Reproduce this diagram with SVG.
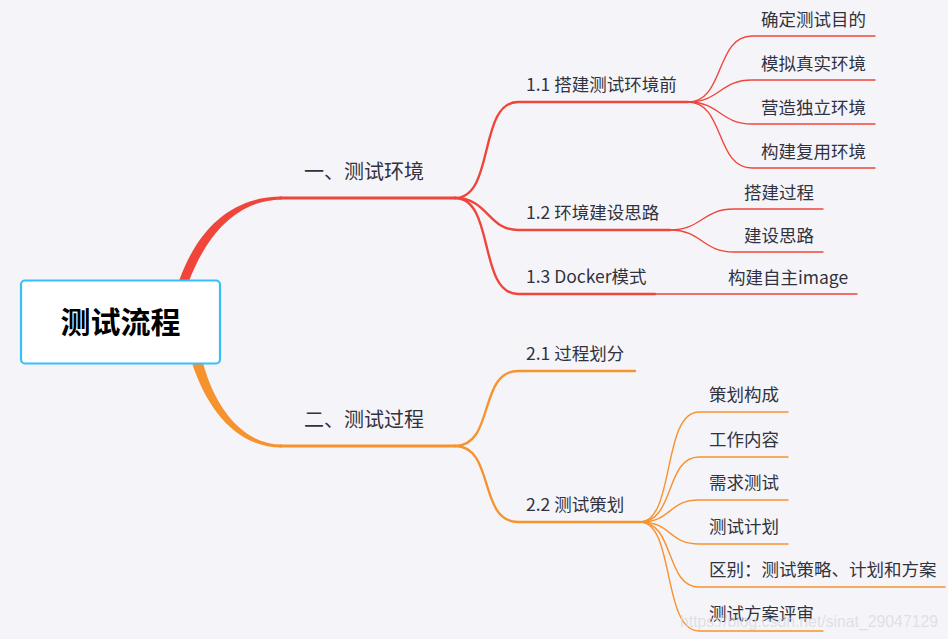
<svg xmlns="http://www.w3.org/2000/svg" width="948" height="639" viewBox="0 0 948 639">
<style>
text{font-family:"Noto Sans CJK SC","Noto Sans",sans-serif;fill:#30333f}
.l1{font-size:20px}
.l2{font-size:17.5px}
.l3{font-size:17.5px}
.r{stroke:#f0453a;fill:none;stroke-linecap:round}
.o{stroke:#f7932f;fill:none;stroke-linecap:round}
.w1{stroke-width:3}
.w2{stroke-width:2.4}
.w3{stroke-width:1.4}
</style>
<rect width="948" height="639" fill="#f5f5f9"/>
<g id="connectors">
<path d="M179,281 C198,228 232,196.5 282,196.5 L282,199.5 C238,200 208,232 189,281 Z" fill="#f0453a"/>
<path d="M192,363 C208,412 238,447.5 282,447.5 L282,444.5 C244,444.5 216,410 203,363 Z" fill="#f7932f"/>
<path class="r w1" d="M280,198 H455"/>
<path class="o w1" d="M280,446 H455"/>
<path class="r w2" d="M455,198 C495,198 478,102 518,102 H688"/>
<path class="r w2" d="M455,198 C488,198 488,230 518,230 H670"/>
<path class="r w2" d="M455,198 C495,198 478,294 518,294 H655"/>
<path class="r w3" d="M655,294 H857"/>
<path class="r w3" d="M688,102 C725,102 715,36 752,36 H875"/>
<path class="r w3" d="M688,102 C720,102 720,80 752,80 H875"/>
<path class="r w3" d="M688,102 C720,102 720,124 752,124 H875"/>
<path class="r w3" d="M688,102 C725,102 715,168 752,168 H875"/>
<path class="r w3" d="M670,230 C702,230 702,209 734,209 H823"/>
<path class="r w3" d="M670,230 C702,230 702,252 734,252 H823"/>
<path class="o w2" d="M455,446 C495,446 478,371 518,371 H635"/>
<path class="o w2" d="M455,446 C495,446 478,522 518,522 H640"/>
<path class="o w3" d="M640,522 C675,522 662,412 699,412 H788"/>
<path class="o w3" d="M640,522 C675,522 665,457 699,457 H788"/>
<path class="o w3" d="M640,522 C672,522 668,500 699,500 H788"/>
<path class="o w3" d="M640,522 C672,522 668,544 699,544 H788"/>
<path class="o w3" d="M640,522 C675,522 665,587 699,587 H945"/>
<path class="o w3" d="M640,522 C675,522 662,631 699,631 H823"/>
</g>
<g id="root">
<rect x="21" y="280.5" width="199" height="83" rx="4" fill="#ffffff" stroke="#36bffa" stroke-width="2.2"/>
<text x="120.5" y="333" text-anchor="middle" style="font-size:30px;font-weight:bold;fill:#000">测试流程</text>
</g>
<g id="n1"><text class="l1" x="304" y="178.5">一、测试环境</text></g>
<g id="n2"><text class="l1" x="304" y="426.5">二、测试过程</text></g>
<g id="n11"><text class="l2" x="526" y="90.5">1.1 搭建测试环境前</text></g>
<g id="n12"><text class="l2" x="526" y="218.5">1.2 环境建设思路</text></g>
<g id="n13"><text class="l2" x="526" y="282.5">1.3 Docker模式</text></g>
<g id="n111"><text class="l3" x="761" y="26">确定测试目的</text></g>
<g id="n112"><text class="l3" x="761" y="70">模拟真实环境</text></g>
<g id="n113"><text class="l3" x="761" y="114">营造独立环境</text></g>
<g id="n114"><text class="l3" x="761" y="158">构建复用环境</text></g>
<g id="n121"><text class="l3" x="744" y="198.5">搭建过程</text></g>
<g id="n122"><text class="l3" x="744" y="241.5">建设思路</text></g>
<g id="n131"><text class="l3" x="728" y="284">构建自主image</text></g>
<g id="n21"><text class="l2" x="526" y="360">2.1 过程划分</text></g>
<g id="n22"><text class="l2" x="526" y="511">2.2 测试策划</text></g>
<g id="n221"><text class="l3" x="709" y="401">策划构成</text></g>
<g id="n222"><text class="l3" x="709" y="446">工作内容</text></g>
<g id="n223"><text class="l3" x="709" y="489">需求测试</text></g>
<g id="n224"><text class="l3" x="709" y="533">测试计划</text></g>
<g id="n225"><text class="l3" x="709" y="576">区别：测试策略、计划和方案</text></g>
<g id="n226"><text class="l3" x="709" y="620">测试方案评审</text></g>
<text x="680" y="627" textLength="258" lengthAdjust="spacingAndGlyphs" style="font-family:'Liberation Sans',sans-serif;font-size:16px;fill:#d8d8de;fill-opacity:0.75">https://blog.csdn.net/sinat_29047129</text>
</svg>
